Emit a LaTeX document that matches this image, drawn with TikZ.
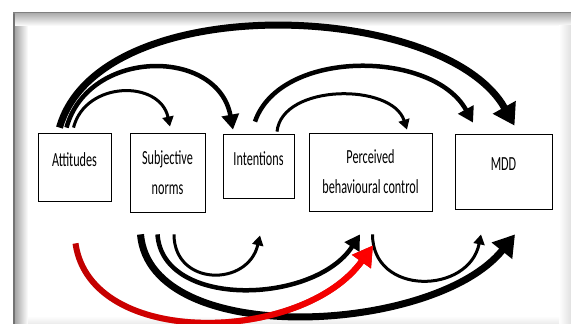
\documentclass[tikz,border=0pt]{standalone}
\usepackage{fontspec}
\newfontfamily\boxfont{Carlito}[FakeStretch=0.61]
\usetikzlibrary{arrows.meta,fadings}
\definecolor{darkred}{RGB}{192,0,0}

\begin{document}
\begin{tikzpicture}[x=1pt,y=1pt,
  box/.style={draw,line width=0.8pt,inner sep=0pt,align=center,
    font=\boxfont\fontsize{20}{30}\selectfont},
  oneline/.style={text height=14pt,text depth=15pt},
  bigarr/.style={line width=7pt,-{Triangle[width=25pt,length=21pt]}},
  midarr/.style={line width=4.5pt,-{Triangle[width=17pt,length=15pt]}},
  thinarr/.style={line width=3pt,-{Triangle[width=11pt,length=10pt]}},
  redarr/.style={line width=6pt,-{Triangle[width=22pt,length=20pt]}}]
  \useasboundingbox (0,0) rectangle (571,324);
  \fill [white] (0,0) rectangle (571,324);
  \fill [black!55] (13,0) rectangle (15,312);
  \shade [left color=black!35,right color=white] (15,0) rectangle (28,310);
  \fill [black!50] (13,310) rectangle (571,312);
  \shade [top color=black!30,bottom color=white] (15,298) rectangle (571,310);
  \shade [left color=white,right color=black!12] (559,0) rectangle (571,298);
  \shade [top color=white,bottom color=black!8] (28,0) rectangle (559,8);

  \node (att) [box,oneline,minimum width=73pt,minimum height=68pt] at (74.5,157) {Attitudes};
  \node (sn) [box,minimum width=75pt,minimum height=79pt] at (167.5,151.5) {Subjective\\norms};
  \node (int) [box,oneline,minimum width=71pt,minimum height=64pt] at (258.5,157.5) {Intentions};
  \node (pbc) [box,minimum width=123pt,minimum height=78pt] at (370.5,152) {Perceived\\behavioural control};
  \node (mdd) [box,oneline,minimum width=97pt,minimum height=75pt] at (503.5,152.5) {MDD};

  \draw [bigarr] ([xshift=-15pt,yshift=5pt]att.north) .. controls +(40,140) and +(-70,125) .. ([xshift=11pt,yshift=8pt]mdd.north);
  \draw [midarr] ([xshift=-8pt,yshift=5pt]att.north) .. controls +(22,80) and +(-15,82) .. ([xshift=-25.5pt,yshift=4.5pt]int.north);
  \draw [thinarr] ([xshift=-1pt,yshift=5pt]att.north) .. controls +(12,47) and +(-10,47) .. ([xshift=2.5pt,yshift=6pt]sn.north);
  \draw [midarr] ([xshift=-3.5pt,yshift=12.5pt]int.north) .. controls +(25,73) and +(-40,73) .. ([xshift=-30.5pt,yshift=11pt]mdd.north);
  \draw [thinarr] ([xshift=18.5pt,yshift=2.5pt]int.north) .. controls +(5,48) and +(-15,47) .. ([xshift=36.5pt,yshift=3pt]pbc.north);

  \draw [bigarr] ([xshift=-27pt,yshift=-22pt]sn.south) .. controls +(10,-115) and +(-80,-100) .. ([xshift=11.5pt,yshift=-25pt]mdd.south);
  \draw [midarr] ([xshift=-10pt,yshift=-22pt]sn.south) .. controls +(5,-75) and +(-45,-70) .. ([xshift=-10.5pt,yshift=-23pt]pbc.south);
  \draw [thinarr] ([xshift=6.5pt,yshift=-22pt]sn.south) .. controls +(0,-52) and +(-12,-52) .. ([xshift=1.5pt,yshift=-36.5pt]int.south);
  \draw [thinarr] ([xshift=2pt,yshift=-23pt]pbc.south) .. controls +(0,-62) and +(-12,-60) .. ([xshift=-22.5pt,yshift=-25pt]mdd.south);

  \draw [redarr,darkred] ([xshift=1pt,yshift=-42pt]att.south) .. controls +(15,-106) and +(-70,-98) .. ([xshift=2.5pt,yshift=-34pt]pbc.south);
  \draw [redarr,red,path fading=west] ([xshift=1pt,yshift=-42pt]att.south) .. controls +(15,-106) and +(-70,-98) .. ([xshift=2.5pt,yshift=-34pt]pbc.south);
\end{tikzpicture}
\end{document}
